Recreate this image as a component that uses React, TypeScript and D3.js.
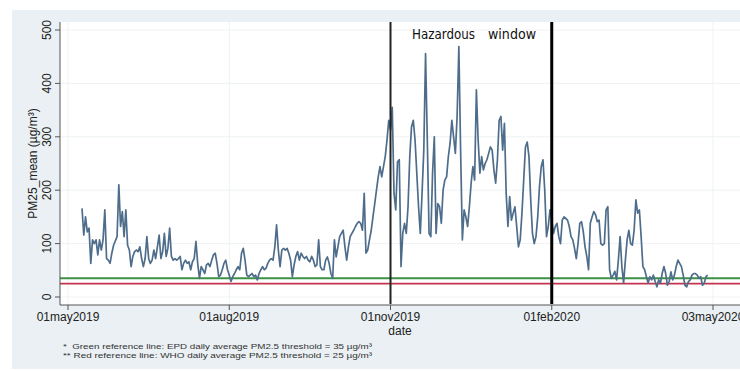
import React from "react";
import * as d3 from "d3";

// PM2.5 daily means, [day of month, µg/m³]
const may2019: [number, number][] = [[9,166],[10,116],[11,150],[12,122],[13,129],[14,63],[15,107],[16,100],[17,107],[18,79],[19,107],[20,88],[21,107],[22,163],[23,72],[24,69],[25,63],[26,82],[27,97],[29,113],[30,210],[31,132]];
const jun2019: [number, number][] = [[1,160],[2,113],[3,163],[4,97],[5,88],[6,57],[7,76],[8,85],[9,88],[10,85],[11,94],[12,72],[13,57],[14,72],[15,113],[16,72],[17,63],[18,69],[19,88],[20,72],[21,94],[22,116],[23,72],[24,85],[25,119],[26,76],[27,91],[28,129],[29,76],[30,69]];
const jul2019: [number, number][] = [[1,72],[2,69],[3,72],[4,76],[5,51],[6,63],[7,69],[8,63],[9,66],[10,51],[11,66],[12,72],[13,104],[14,63],[15,35],[16,57],[17,51],[18,44],[19,60],[20,63],[21,57],[22,69],[23,79],[24,82],[25,63],[26,38],[27,41],[28,51],[29,63],[30,69],[31,51]];
const aug2019: [number, number][] = [[1,41],[2,29],[3,38],[4,44],[5,51],[6,57],[7,51],[8,82],[9,91],[10,69],[11,41],[12,38],[13,41],[14,44],[15,38],[16,41],[17,32],[18,44],[19,51],[20,57],[21,51],[22,54],[23,63],[24,69],[25,72],[26,69],[27,94],[28,135],[29,88],[30,57],[31,88]];
const sep2019: [number, number][] = [[1,91],[2,88],[3,91],[4,82],[5,69],[6,38],[7,60],[8,76],[9,85],[10,69],[11,82],[12,76],[13,72],[14,76],[15,69],[16,66],[17,76],[18,69],[19,57],[20,60],[21,107],[22,57],[23,51],[24,51],[25,69],[26,75],[27,63],[28,44],[29,35],[30,107]];
const oct2019: [number, number][] = [[1,75],[2,94],[3,113],[4,119],[5,125],[6,94],[7,69],[8,94],[9,113],[10,119],[11,125],[12,132],[13,138],[14,141],[15,138],[16,125],[17,194],[18,82],[19,88],[20,107],[21,125],[22,150],[23,175],[24,200],[25,225],[26,244],[27,225],[28,244],[29,263],[30,294],[31,331]];
const nov2019: [number, number][] = [[1,313],[2,355],[3,194],[4,163],[5,253],[6,257],[7,57],[8,119],[9,138],[10,119],[11,169],[12,263],[13,319],[14,331],[15,294],[16,232],[17,169],[18,119],[19,194],[20,275],[21,456],[22,294],[23,119],[24,113],[25,232],[26,300],[27,119],[28,175],[29,169],[30,138]];
const dec2019: [number, number][] = [[1,200],[2,219],[3,225],[4,263],[5,288],[6,331],[7,300],[8,269],[9,338],[10,469],[11,275],[12,107],[13,163],[14,150],[15,132],[16,169],[17,213],[18,244],[19,219],[20,388],[21,294],[22,232],[23,263],[24,238],[25,250],[26,257],[27,269],[28,281],[29,275],[30,238],[31,213]];
const jan2020: [number, number][] = [[1,257],[2,331],[3,338],[4,275],[5,325],[6,194],[7,132],[8,188],[9,144],[10,157],[11,169],[12,132],[13,94],[14,107],[15,157],[16,219],[17,281],[18,290],[19,263],[20,182],[21,119],[22,100],[23,113],[24,150],[25,207],[26,244],[27,257],[28,200],[29,113],[30,132],[31,163]];
const feb2020: [number, number][] = [[1,144],[2,119],[3,132],[4,138],[5,113],[6,100],[7,144],[8,150],[9,147],[10,144],[11,132],[12,113],[13,107],[14,91],[15,72],[16,100],[17,138],[18,141],[19,122],[20,94],[21,76],[22,51],[23,138],[24,150],[25,160],[26,154],[27,141],[28,144],[29,100]];
const mar2020: [number, number][] = [[1,97],[2,100],[3,163],[4,169],[5,51],[6,35],[7,41],[8,48],[9,32],[10,69],[11,113],[12,57],[13,26],[14,69],[15,107],[16,125],[17,100],[18,97],[19,125],[20,182],[21,157],[22,163],[23,113],[24,57],[25,51],[26,38],[27,26],[28,38],[29,32],[30,41],[31,29]];
const apr2020: [number, number][] = [[1,19],[2,32],[3,26],[4,44],[5,57],[6,44],[7,22],[8,29],[9,47],[10,32],[11,41],[12,57],[13,69],[14,63],[15,57],[16,41],[17,22],[18,19],[19,29],[20,32],[21,41],[22,44],[23,44],[24,41],[25,35],[26,38],[27,22],[28,26],[29,38],[30,41]];

const months: [number, number, [number, number][]][] = [
  [2019, 4, may2019], [2019, 5, jun2019], [2019, 6, jul2019], [2019, 7, aug2019],
  [2019, 8, sep2019], [2019, 9, oct2019], [2019, 10, nov2019], [2019, 11, dec2019],
  [2020, 0, jan2020], [2020, 1, feb2020], [2020, 2, mar2020], [2020, 3, apr2020],
];

const xTickDates = ["2019-05-01", "2019-08-01", "2019-11-01", "2020-02-01", "2020-05-03"];
const yTicks = [0, 100, 200, 300, 400, 500];
const windowDates = ["2019-11-01", "2020-02-01"];
const epdThreshold = 35;
const whoThreshold = 25;
const yTitle = "PM25_mean (µg/m³)";
const xTitle = "date";
const windowLabel = ["Hazardous", "window"];
const footnotes = [
  "*  Green reference line: EPD daily average PM2.5 threshold = 35 µg/m³",
  "** Red reference line: WHO daily average PM2.5 threshold = 25 µg/m³",
];

const parse = (s: string) => {
  const [y, m, d] = s.split("-").map(Number);
  return new Date(Date.UTC(y, m - 1, d));
};

export default function App() {
  const W = 740, H = 371;
  const plot = { left: 60, right: 740, top: 22, bottom: 305 };
  const x = d3.scaleUtc().domain([parse("2019-05-01"), parse("2020-05-03")]).range([68, 713]);
  const y = d3.scaleLinear().domain([0, 500]).range([297, 30]);

  const data = months.flatMap(([yr, mo, arr]) =>
    arr.map(([d, v]) => ({ date: new Date(Date.UTC(yr, mo, d)), value: v }))
  );
  const line = d3.line<{ date: Date; value: number }>().x(d => x(d.date)).y(d => y(d.value));
  const fmt = d3.utcFormat("%d%b%Y");
  const font = "'Liberation Sans', Arial, sans-serif";

  return (
    <svg width={W} height={H} style={{ position: "absolute", left: 0, top: 0 }} fontFamily={font}>
      <rect x={0} y={0} width={W} height={H} fill="#ffffff" />
      <rect x={12} y={10} width={W - 12} height={359} fill="#eaf0f3" />
      <rect x={plot.left} y={plot.top} width={plot.right - plot.left} height={plot.bottom - plot.top} fill="#ffffff" />
      {/* gridlines */}
      {yTicks.map(t => (
        <line key={"gy" + t} x1={plot.left} x2={plot.right} y1={y(t)} y2={y(t)} stroke="#eef2f4" strokeWidth={1} />
      ))}
      {xTickDates.map(s => (
        <line key={"gx" + s} x1={x(parse(s))} x2={x(parse(s))} y1={plot.top} y2={plot.bottom} stroke="#eef2f4" strokeWidth={1} />
      ))}
      {/* reference lines */}
      <line x1={plot.left} x2={plot.right} y1={y(epdThreshold)} y2={y(epdThreshold)} stroke="#3c9046" strokeWidth={2} />
      <line x1={plot.left} x2={plot.right} y1={y(whoThreshold)} y2={y(whoThreshold)} stroke="#c5344f" strokeWidth={1.8} />
      {/* series */}
      <path d={line(data) || ""} fill="none" stroke="#4e6d8b" strokeWidth={1.7} strokeLinejoin="round" />
      {/* hazardous window */}
      {windowDates.map((s, i) => (
        <line key={"w" + s} x1={x(parse(s))} x2={x(parse(s))} y1={plot.top} y2={plot.bottom - 1}
          stroke={i === 0 ? "#222" : "#000"} strokeWidth={i === 0 ? 2 : 3} />
      ))}
      <text y={39} fontSize={14} fill="#111" fontFamily="'Liberation Sans Narrow', 'DejaVu Sans Condensed', sans-serif">
        <tspan x={412} textLength={63} lengthAdjust="spacingAndGlyphs">{windowLabel[0]}</tspan>
        <tspan x={488} textLength={48} lengthAdjust="spacingAndGlyphs">{windowLabel[1]}</tspan>
      </text>
      {/* y axis */}
      <line x1={plot.left} x2={plot.left} y1={plot.top} y2={plot.bottom} stroke="#555" strokeWidth={1} />
      {yTicks.map(t => (
        <g key={"yt" + t}>
          <line x1={plot.left - 5} x2={plot.left} y1={y(t)} y2={y(t)} stroke="#555" />
          <text transform={`translate(51,${y(t)}) rotate(-90)`} textAnchor="middle" fontSize={12} fill="#222">{t}</text>
        </g>
      ))}
      <text transform={`translate(37,${(plot.top + plot.bottom) / 2}) rotate(-90)`} textAnchor="middle" fontSize={12} fill="#222">{yTitle}</text>
      {/* x axis */}
      <line x1={plot.left} x2={plot.right} y1={plot.bottom} y2={plot.bottom} stroke="#555" strokeWidth={1} />
      {xTickDates.map(s => (
        <g key={"xt" + s}>
          <line x1={x(parse(s))} x2={x(parse(s))} y1={plot.bottom} y2={plot.bottom + 5} stroke="#555" />
          <text x={x(parse(s))} y={321} textAnchor="middle" fontSize={12} fill="#222">{fmt(parse(s)).toLowerCase()}</text>
        </g>
      ))}
      <text x={(plot.left + plot.right) / 2} y={335} textAnchor="middle" fontSize={12} fill="#222">{xTitle}</text>
      {footnotes.map((f, i) => (
        <text key={"fn" + i} x={63} y={349 + i * 8.5} fontSize={8} fill="#333" textLength={309} lengthAdjust="spacingAndGlyphs" style={{ whiteSpace: "pre" }}>{f}</text>
      ))}
    </svg>
  );
}
